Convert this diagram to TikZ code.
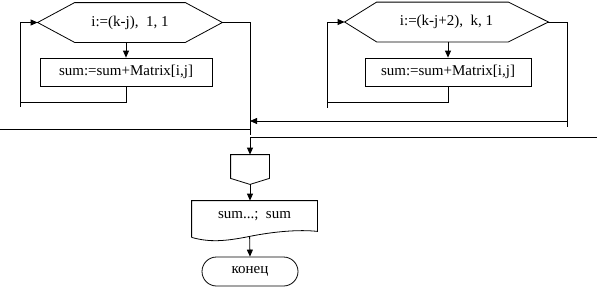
\documentclass[tikz,border=0pt]{standalone}
\usepackage{fontspec}
\setmainfont{Liberation Serif}
\usetikzlibrary{arrows.meta,calc,positioning,shapes.misc}

\begin{document}
\begin{tikzpicture}[
    x=1pt, y=-1pt, line width=0.8pt,
    font=\fontsize{15}{17}\selectfont,
    hdr/.style={inner sep=0pt, minimum height=39pt},
    box/.style={draw, inner sep=0pt, minimum height=28pt},
    io/.style={inner sep=0pt, minimum width=125pt, minimum height=30pt},
    term/.style={draw, rounded rectangle, inner sep=0pt, minimum width=96pt,
                 minimum height=29pt},
    arr/.style={-{Triangle[length=7pt,width=6pt]}}]
  \useasboundingbox (0,0) rectangle (597,289);
  % first loop
  \node[hdr, minimum width=184pt] (hex1) at (130,22.5) {i:=(k-j),\ \ 1, 1};
  \draw (hex1.west) -- ($(hex1.north west)+(37,0)$) -- ($(hex1.north east)+(-37,0)$)
    -- (hex1.east) -- ($(hex1.south east)+(-37,0)$) -- ($(hex1.south west)+(37,0)$) -- cycle;
  \node[box, minimum width=172pt] (body1) at (126,72) {sum:=sum+Matrix[i,j]};
  \coordinate (ret1) at (20,102);
  \coordinate (join1) at (250,129);
  \coordinate (cut1) at (0,129);
  \draw[arr] (body1.north |- hex1.south) -- (body1.north);
  \draw (body1.south) |- (ret1) -- ++(0,5);
  \draw[arr] (ret1) |- (hex1.west);
  \draw (hex1.east) -| ($(join1)+(0,6)$);
  \draw (cut1) -- (join1);
  % second loop
  \node[hdr, minimum width=203pt] (hex2) at (446.5,22) {i:=(k-j+2),\ \ k, 1};
  \draw (hex2.west) -- ($(hex2.north west)+(32,0)$) -- ($(hex2.north east)+(-40,0)$)
    -- (hex2.east) -- ($(hex2.south east)+(-40,0)$) -- ($(hex2.south west)+(32,0)$) -- cycle;
  \node[box, minimum width=166pt] (body2) at (448,72) {sum:=sum+Matrix[i,j]};
  \coordinate (ret2) at (327,102);
  \coordinate (join2) at (567,121);
  \draw[arr] (body2.north |- hex2.south) -- (body2.north);
  \draw (body2.south) |- (ret2) -- ++(0,6);
  \draw[arr] (ret2) |- (hex2.west);
  \draw (hex2.east) -| ($(join2)+(0,6)$);
  \draw[arr] (join2) -- (join2 -| join1);
  % output and end
  \coordinate (join3) at (250,137);
  \coordinate (cut2) at (597,137);
  \draw (cut2) -- (join3);
  \node[inner sep=0pt, minimum width=38pt, minimum height=23pt] (conn) at (250,166.5) {};
  \coordinate (conntip) at ($(conn.south)+(0,6)$);
  \draw (conn.south west) -- (conn.north west) -- (conn.north east) -- (conn.south east)
    -- (conntip) -- cycle;
  \draw[arr] (join3) -- (conn.north);
  \node[io] (out) at (254.5,216) {sum...;\ \ sum};
  \draw ($(out.south west)+(0,6)$) -- (out.north west) -- (out.north east) -- (out.south east)
    .. controls ($(out.south west)+(108,-2)$) and ($(out.south west)+(83,0)$)
    .. ($(out.south west)+(58,5)$)
    .. controls ($(out.south west)+(33,10)$) and ($(out.south west)+(18,11)$)
    .. ($(out.south west)+(0,6)$);
  \coordinate (wv) at ($(out.south west)+(58,5)$);
  \draw[arr] (conntip) -- (conntip |- out.north);
  \node[term] (stop) at (250,271.5) {конец};
  \draw[arr] (wv) -- (stop.north);
\end{tikzpicture}
\end{document}
